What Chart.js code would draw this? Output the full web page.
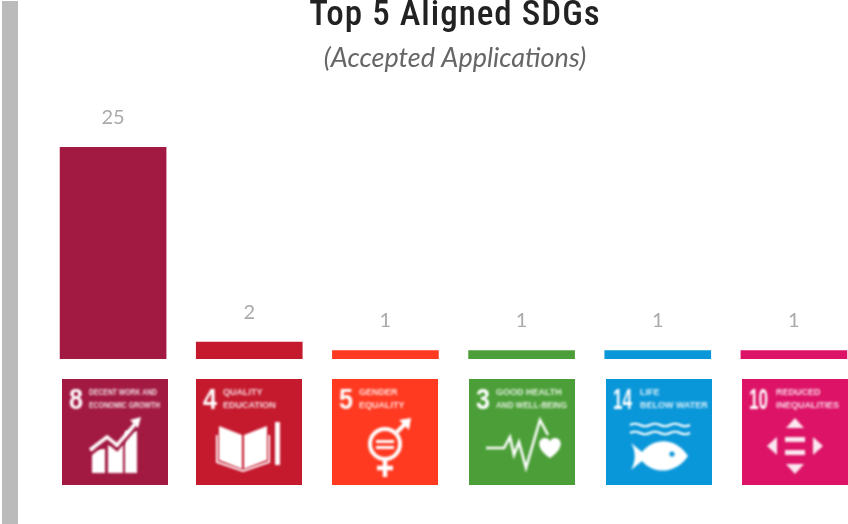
<!DOCTYPE html>
<html>
<head>
<meta charset="utf-8">
<script src="https://cdn.jsdelivr.net/npm/chart.js@4"></script>
<style>
  html, body { margin: 0; padding: 0; width: 848px; height: 524px; overflow: hidden; background: #fff; }
  #strip { position: absolute; left: 2px; top: 1px; width: 16px; height: 523px; background: #bbb; }
  #chart { position: absolute; left: 0; top: 0; }
</style>
</head>
<body>
<div id="strip"></div>
<canvas id="chart" width="880" height="524" style="width:880px;height:524px"></canvas>
<script>
const goals = ["8", "4", "5", "3", "14", "10"];
const values = [25, 2, 1, 1, 1, 1];
const colors = ["#A21942", "#C5192D", "#FF3A21", "#4C9F38", "#0A97D9", "#DD1367"];
const line1 = ["DECENT WORK AND", "QUALITY", "GENDER", "GOOD HEALTH", "LIFE", "REDUCED"];
const line2 = ["ECONOMIC GROWTH", "EDUCATION", "EQUALITY", "AND WELL-BEING", "BELOW WATER", "INEQUALITIES"];

const titleText = "Top 5 Aligned SDGs";
const subtitleText = "(Accepted Applications)";

// tiles don't sit exactly under the bars in the original
const tileNudge = [2, 0, 0, 0, 1, 1];
const tileTop = 379;
const tileSize = 106;

function poly(ctx, pts) {
  ctx.beginPath();
  pts.forEach((p, i) => i ? ctx.lineTo(p[0], p[1]) : ctx.moveTo(p[0], p[1]));
}

function fillPoly(ctx, pts) {
  poly(ctx, pts);
  ctx.closePath();
  ctx.fill();
}

function strokePoly(ctx, pts, w) {
  poly(ctx, pts);
  ctx.lineWidth = w;
  ctx.stroke();
}

const icons = [
  // growth chart
  (ctx, bg) => {
    ctx.fillRect(30, 70, 13, 24);
    ctx.fillRect(46, 66, 15, 28);
    ctx.fillRect(63, 52, 12, 42);
    ctx.strokeStyle = bg;
    strokePoly(ctx, [[28, 75], [45, 62], [55, 70], [74, 48]], 4);
    ctx.strokeStyle = "#fff";
    strokePoly(ctx, [[28, 71], [45, 58], [55, 66], [74, 44]], 3.5);
    fillPoly(ctx, [[79, 38], [76, 49], [68, 41]]);
  },
  // open book and pencil
  (ctx) => {
    fillPoly(ctx, [[23, 47], [46, 56], [46, 90], [23, 81]]);
    fillPoly(ctx, [[48, 56], [71, 47], [71, 81], [48, 90]]);
    ctx.strokeStyle = "#fff";
    strokePoly(ctx, [[21, 56], [21, 83], [47, 92], [73, 83], [73, 56]], 2);
    ctx.fillRect(79, 43, 5, 43);
  },
  // gender symbol
  (ctx) => {
    ctx.strokeStyle = "#fff";
    ctx.beginPath();
    ctx.arc(53, 65, 15, 0, Math.PI * 2);
    ctx.lineWidth = 4;
    ctx.stroke();
    strokePoly(ctx, [[64, 54], [75, 43]], 4);
    fillPoly(ctx, [[79, 39], [77, 51], [67, 41]]);
    strokePoly(ctx, [[53, 80], [53, 98]], 4.5);
    strokePoly(ctx, [[45, 89], [61, 89]], 4.5);
    ctx.fillRect(44, 61, 18, 3);
    ctx.fillRect(44, 67, 18, 3);
  },
  // heartbeat and heart
  (ctx) => {
    ctx.strokeStyle = "#fff";
    strokePoly(ctx, [[17, 69], [35, 69], [41, 58], [45, 76], [50, 63], [57, 89], [71, 41], [79, 56]], 2.6);
    ctx.beginPath();
    ctx.moveTo(81, 79);
    ctx.bezierCurveTo(66, 69, 69, 59, 76, 59);
    ctx.bezierCurveTo(79, 59, 81, 61, 81, 63);
    ctx.bezierCurveTo(81, 61, 83, 59, 86, 59);
    ctx.bezierCurveTo(93, 59, 96, 69, 81, 79);
    ctx.fill();
  },
  // waves and fish
  (ctx, bg) => {
    ctx.strokeStyle = "#fff";
    [46, 54].forEach(y => {
      ctx.beginPath();
      ctx.moveTo(24, y);
      for (let x = 24; x < 81; x += 10) ctx.quadraticCurveTo(x + 5, y + (x % 20 === 4 ? -2.5 : 2.5), x + 10, y);
      ctx.lineWidth = 2.2;
      ctx.stroke();
    });
    ctx.beginPath();
    ctx.moveTo(82, 77);
    ctx.bezierCurveTo(70, 58, 48, 58, 36, 73);
    ctx.lineTo(25, 64);
    ctx.bezierCurveTo(30, 72, 30, 82, 25, 91);
    ctx.lineTo(36, 82);
    ctx.bezierCurveTo(48, 96, 70, 95, 82, 77);
    ctx.fill();
    ctx.fillStyle = bg;
    ctx.beginPath();
    ctx.arc(66, 75, 2.6, 0, Math.PI * 2);
    ctx.fill();
  },
  // four arrows and equals
  (ctx) => {
    ctx.fillStyle = "rgba(255,255,255,0.9)";
    fillPoly(ctx, [[53, 39], [62, 49], [44, 49]]);
    fillPoly(ctx, [[53, 95], [62, 85], [44, 85]]);
    fillPoly(ctx, [[25, 67], [35, 58], [35, 76]]);
    fillPoly(ctx, [[81, 67], [71, 58], [71, 76]]);
    ctx.fillRect(43, 58, 20, 5);
    ctx.fillRect(43, 71, 20, 5);
  }
];

const pageText = {
  id: "pageText",
  afterDraw(chart) {
    const ctx = chart.ctx;
    ctx.save();
    ctx.textAlign = "center";
    ctx.textBaseline = "alphabetic";
    ctx.fillStyle = "#222";
    ctx.font = '500 35px "Roboto Condensed", "Liberation Sans Narrow", Roboto, sans-serif';
    ctx.letterSpacing = "1px";
    ctx.fillText(titleText, 455, 25);
    ctx.letterSpacing = "0px";
    ctx.fillStyle = "#666";
    ctx.font = 'italic 27px Lato, "Open Sans", sans-serif';
    ctx.fillText(subtitleText, 455, 67);

    // value labels over the bars
    ctx.textBaseline = "middle";
    ctx.fillStyle = "#aaa";
    ctx.font = '400 20px Lato, "Open Sans", sans-serif';
    chart.getDatasetMeta(0).data.forEach((bar, i) => {
      ctx.fillText(String(values[i]), bar.x, bar.y - 30);
    });
    ctx.restore();
  }
};

const goalTiles = {
  id: "goalTiles",
  afterDraw(chart) {
    const ctx = chart.ctx;
    const xScale = chart.scales.x;
    goals.forEach((goal, i) => {
      const left = Math.round(xScale.getPixelForValue(i) - tileSize / 2) + tileNudge[i];
      ctx.save();
      ctx.translate(left, tileTop);
      ctx.fillStyle = colors[i];
      ctx.fillRect(0, 0, tileSize, tileSize);
      ctx.filter = "blur(0.9px)";
      ctx.fillStyle = "#fff";
      ctx.strokeStyle = "#fff";
      ctx.textBaseline = "alphabetic";
      ctx.textAlign = "left";
      const wide = goal.length > 1;
      ctx.font = 'bold 30px "Liberation Sans Narrow", sans-serif';
      ctx.fillText(goal, 7, 30, wide ? 19 : 14);
      const tx = wide ? 34 : 27;
      ctx.globalAlpha = 0.85;
      ctx.font = 'bold 9px "Liberation Sans Narrow", sans-serif';
      ctx.fillText(line1[i], tx, 16, 68);
      ctx.fillText(line2[i], tx, 29, 71);
      ctx.globalAlpha = 1;
      icons[i](ctx, colors[i]);
      ctx.restore();
    });
  }
};

new Chart(document.getElementById("chart"), {
  type: "bar",
  data: {
    labels: goals,
    datasets: [{
      data: values,
      backgroundColor: colors,
      barThickness: 106,
      borderWidth: 0
    }]
  },
  options: {
    responsive: false,
    animation: false,
    devicePixelRatio: 1,
    layout: { padding: { left: 45, right: 18, top: 105, bottom: 165 } },
    plugins: {
      legend: { display: false },
      tooltip: { enabled: false }
    },
    scales: {
      x: { display: false },
      y: { display: false, min: 0, max: 30 }
    }
  },
  plugins: [pageText, goalTiles]
});
</script>
</body>
</html>
